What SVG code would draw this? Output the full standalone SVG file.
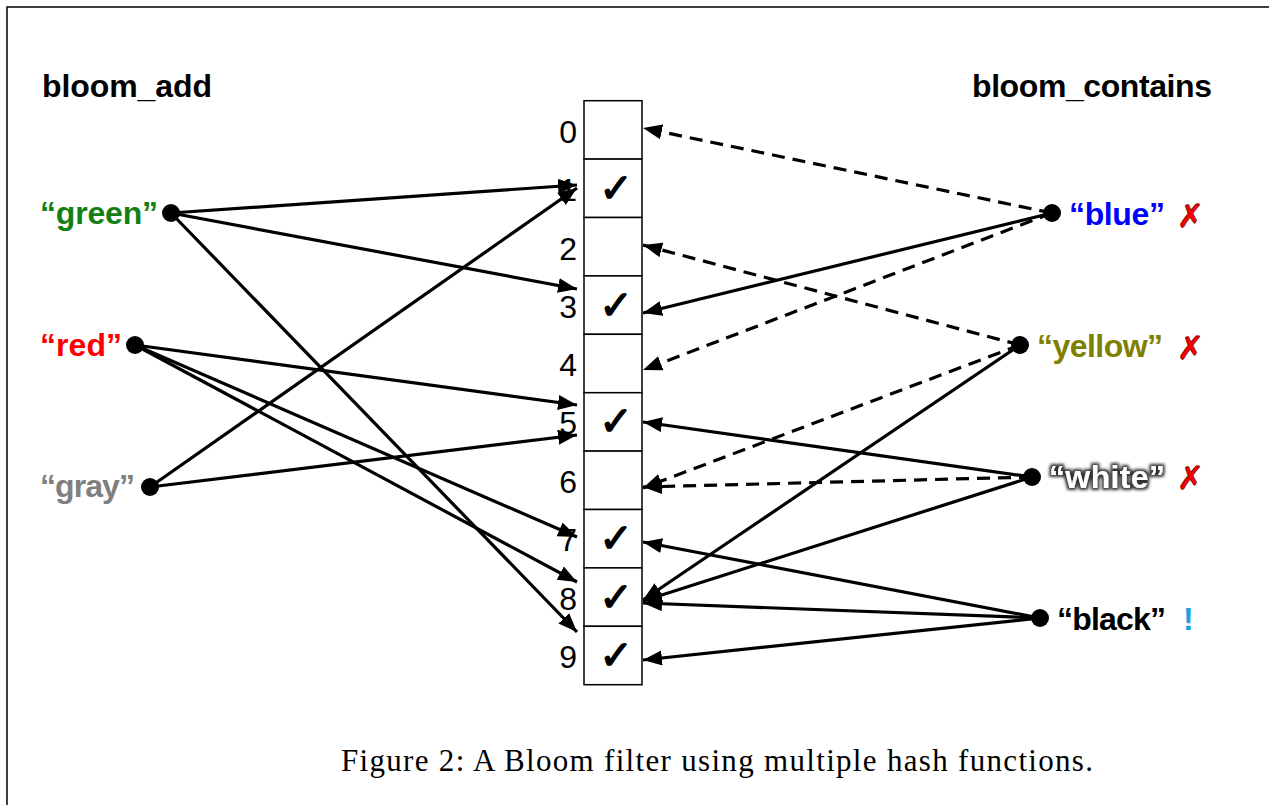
<svg xmlns="http://www.w3.org/2000/svg" width="1269" height="805" viewBox="0 0 1269 805">
<style>
.frame{stroke:#000;stroke-width:1.5;fill:none}
.cell{fill:#fff;stroke:#000;stroke-width:1.5}
.idx{font-family:"Liberation Sans",Arial,sans-serif;font-size:32px;fill:#000;text-anchor:end}
.chk{font-family:"DejaVu Sans",sans-serif;font-size:40px;font-weight:bold;fill:#000;stroke:#000;stroke-width:1.4;text-anchor:middle}
.title{font-family:"Liberation Sans",Arial,sans-serif;font-size:32px;font-weight:bold;fill:#000}
.lbl{font-family:"Liberation Sans",Arial,sans-serif;font-size:32px;font-weight:bold}
.dot{fill:#000}
.e{stroke:#000;stroke-width:3.2;fill:none;marker-end:url(#ah)}
.d{stroke-dasharray:13 8}
.x{font-family:"DejaVu Sans",sans-serif;font-size:32px;font-weight:bold;fill:#f00;stroke:#700;stroke-width:0.8}
.cap{font-family:"Liberation Serif","Times New Roman",serif;font-size:31px;fill:#000}
</style>
<defs>
<marker id="ah" markerUnits="userSpaceOnUse" markerWidth="20" markerHeight="16" refX="19" refY="7.5" orient="auto">
<path d="M0,0 L19,7.5 L0,15 z" fill="#000"/>
</marker>
<filter id="glow" x="-10%" y="-40%" width="120%" height="180%">
<feMorphology in="SourceAlpha" operator="dilate" radius="2" result="dl"/>
<feGaussianBlur in="dl" stdDeviation="1.6" result="bl"/>
<feFlood flood-color="#333"/>
<feComposite in2="bl" operator="in" result="sh"/>
<feMerge><feMergeNode in="sh"/><feMergeNode in="SourceGraphic"/></feMerge>
</filter>
</defs>
<rect width="1269" height="805" fill="#fff"/>
<g id="frame">
<path class="frame" d="M7,805 V7 H1269"/>
</g>
<g id="titles">
<text id="title-add" class="title" x="42" y="97" textLength="170">bloom_add</text>
<text id="title-contains" class="title" x="972" y="97" textLength="240">bloom_contains</text>
</g>
<g id="connectors">
<line class="e" x1="171" y1="213" x2="577" y2="185"/>
<line class="e" x1="171" y1="213" x2="577" y2="289"/>
<line class="e" x1="171" y1="213" x2="577" y2="632"/>
<line class="e" x1="135" y1="345" x2="577" y2="405"/>
<line class="e" x1="135" y1="345" x2="577" y2="537"/>
<line class="e" x1="135" y1="345" x2="577" y2="582"/>
<line class="e" x1="150" y1="487" x2="577" y2="188"/>
<line class="e" x1="150" y1="487" x2="577" y2="435"/>
<line class="e d" x1="1052" y1="213" x2="643" y2="128"/>
<line class="e" x1="1052" y1="213" x2="643" y2="313"/>
<line class="e d" x1="1052" y1="213" x2="643" y2="370"/>
<line class="e d" x1="1020" y1="345" x2="643" y2="245"/>
<line class="e d" x1="1020" y1="345" x2="643" y2="488"/>
<line class="e" x1="1020" y1="345" x2="643" y2="600"/>
<line class="e" x1="1032" y1="477" x2="643" y2="422"/>
<line class="e d" x1="1032" y1="477" x2="643" y2="487"/>
<line class="e" x1="1032" y1="477" x2="643" y2="601"/>
<line class="e" x1="1040" y1="618" x2="643" y2="542"/>
<line class="e" x1="1040" y1="618" x2="643" y2="603"/>
<line class="e" x1="1040" y1="618" x2="643" y2="660"/>
</g>
<g id="bit-array">
<g id="cell-0"><rect class="cell" x="584" y="100.7" width="58" height="58.4"/><text class="idx" x="577" y="143">0</text></g>
<g id="cell-1"><rect class="cell" x="584" y="159.1" width="58" height="58.4"/><text class="idx" x="577" y="201">1</text><text class="chk" x="616" y="202">✓</text></g>
<g id="cell-2"><rect class="cell" x="584" y="217.5" width="58" height="58.4"/><text class="idx" x="577" y="260">2</text></g>
<g id="cell-3"><rect class="cell" x="584" y="275.9" width="58" height="58.4"/><text class="idx" x="577" y="318">3</text><text class="chk" x="616" y="319">✓</text></g>
<g id="cell-4"><rect class="cell" x="584" y="334.3" width="58" height="58.4"/><text class="idx" x="577" y="376">4</text></g>
<g id="cell-5"><rect class="cell" x="584" y="392.7" width="58" height="58.4"/><text class="idx" x="577" y="434">5</text><text class="chk" x="616" y="435">✓</text></g>
<g id="cell-6"><rect class="cell" x="584" y="451.1" width="58" height="58.4"/><text class="idx" x="577" y="493">6</text></g>
<g id="cell-7"><rect class="cell" x="584" y="509.5" width="58" height="58.4"/><text class="idx" x="577" y="551">7</text><text class="chk" x="616" y="552">✓</text></g>
<g id="cell-8"><rect class="cell" x="584" y="567.9" width="58" height="58.4"/><text class="idx" x="577" y="610">8</text><text class="chk" x="616" y="611">✓</text></g>
<g id="cell-9"><rect class="cell" x="584" y="626.3" width="58" height="58.4"/><text class="idx" x="577" y="668">9</text><text class="chk" x="616" y="669">✓</text></g>
</g>
<g id="node-green"><circle class="dot" cx="171" cy="213" r="9"/><text class="lbl" x="40" y="224" fill="#138013" textLength="118">“green”</text></g>
<g id="node-red"><circle class="dot" cx="135" cy="345" r="9"/><text class="lbl" x="40" y="356" fill="#ff0000" textLength="82">“red”</text></g>
<g id="node-gray"><circle class="dot" cx="150" cy="487" r="9"/><text class="lbl" x="40" y="497" fill="#7f7f7f" textLength="95">“gray”</text></g>
<g id="node-blue"><circle class="dot" cx="1052" cy="213" r="9"/><text class="lbl" x="1069" y="225" fill="#0000ff" textLength="96">“blue”</text><text class="x" x="1177" y="227">✗</text></g>
<g id="node-yellow"><circle class="dot" cx="1020" cy="345" r="9"/><text class="lbl" x="1037" y="357" fill="#808000" textLength="126">“yellow”</text><text class="x" x="1177" y="359">✗</text></g>
<g id="node-white"><circle class="dot" cx="1032" cy="477" r="9"/><text class="lbl" x="1049" y="488" fill="#fff" filter="url(#glow)" textLength="116">“white”</text><text class="x" x="1177" y="489">✗</text></g>
<g id="node-black"><circle class="dot" cx="1040" cy="618" r="9"/><text class="lbl" x="1057" y="630" fill="#000" textLength="109">“black”</text><text class="lbl" x="1183" y="630" fill="#1ba1e2">!</text></g>
<g id="caption">
<text class="cap" x="341" y="771" textLength="752">Figure 2: A Bloom filter using multiple hash functions.</text>
</g>
</svg>
